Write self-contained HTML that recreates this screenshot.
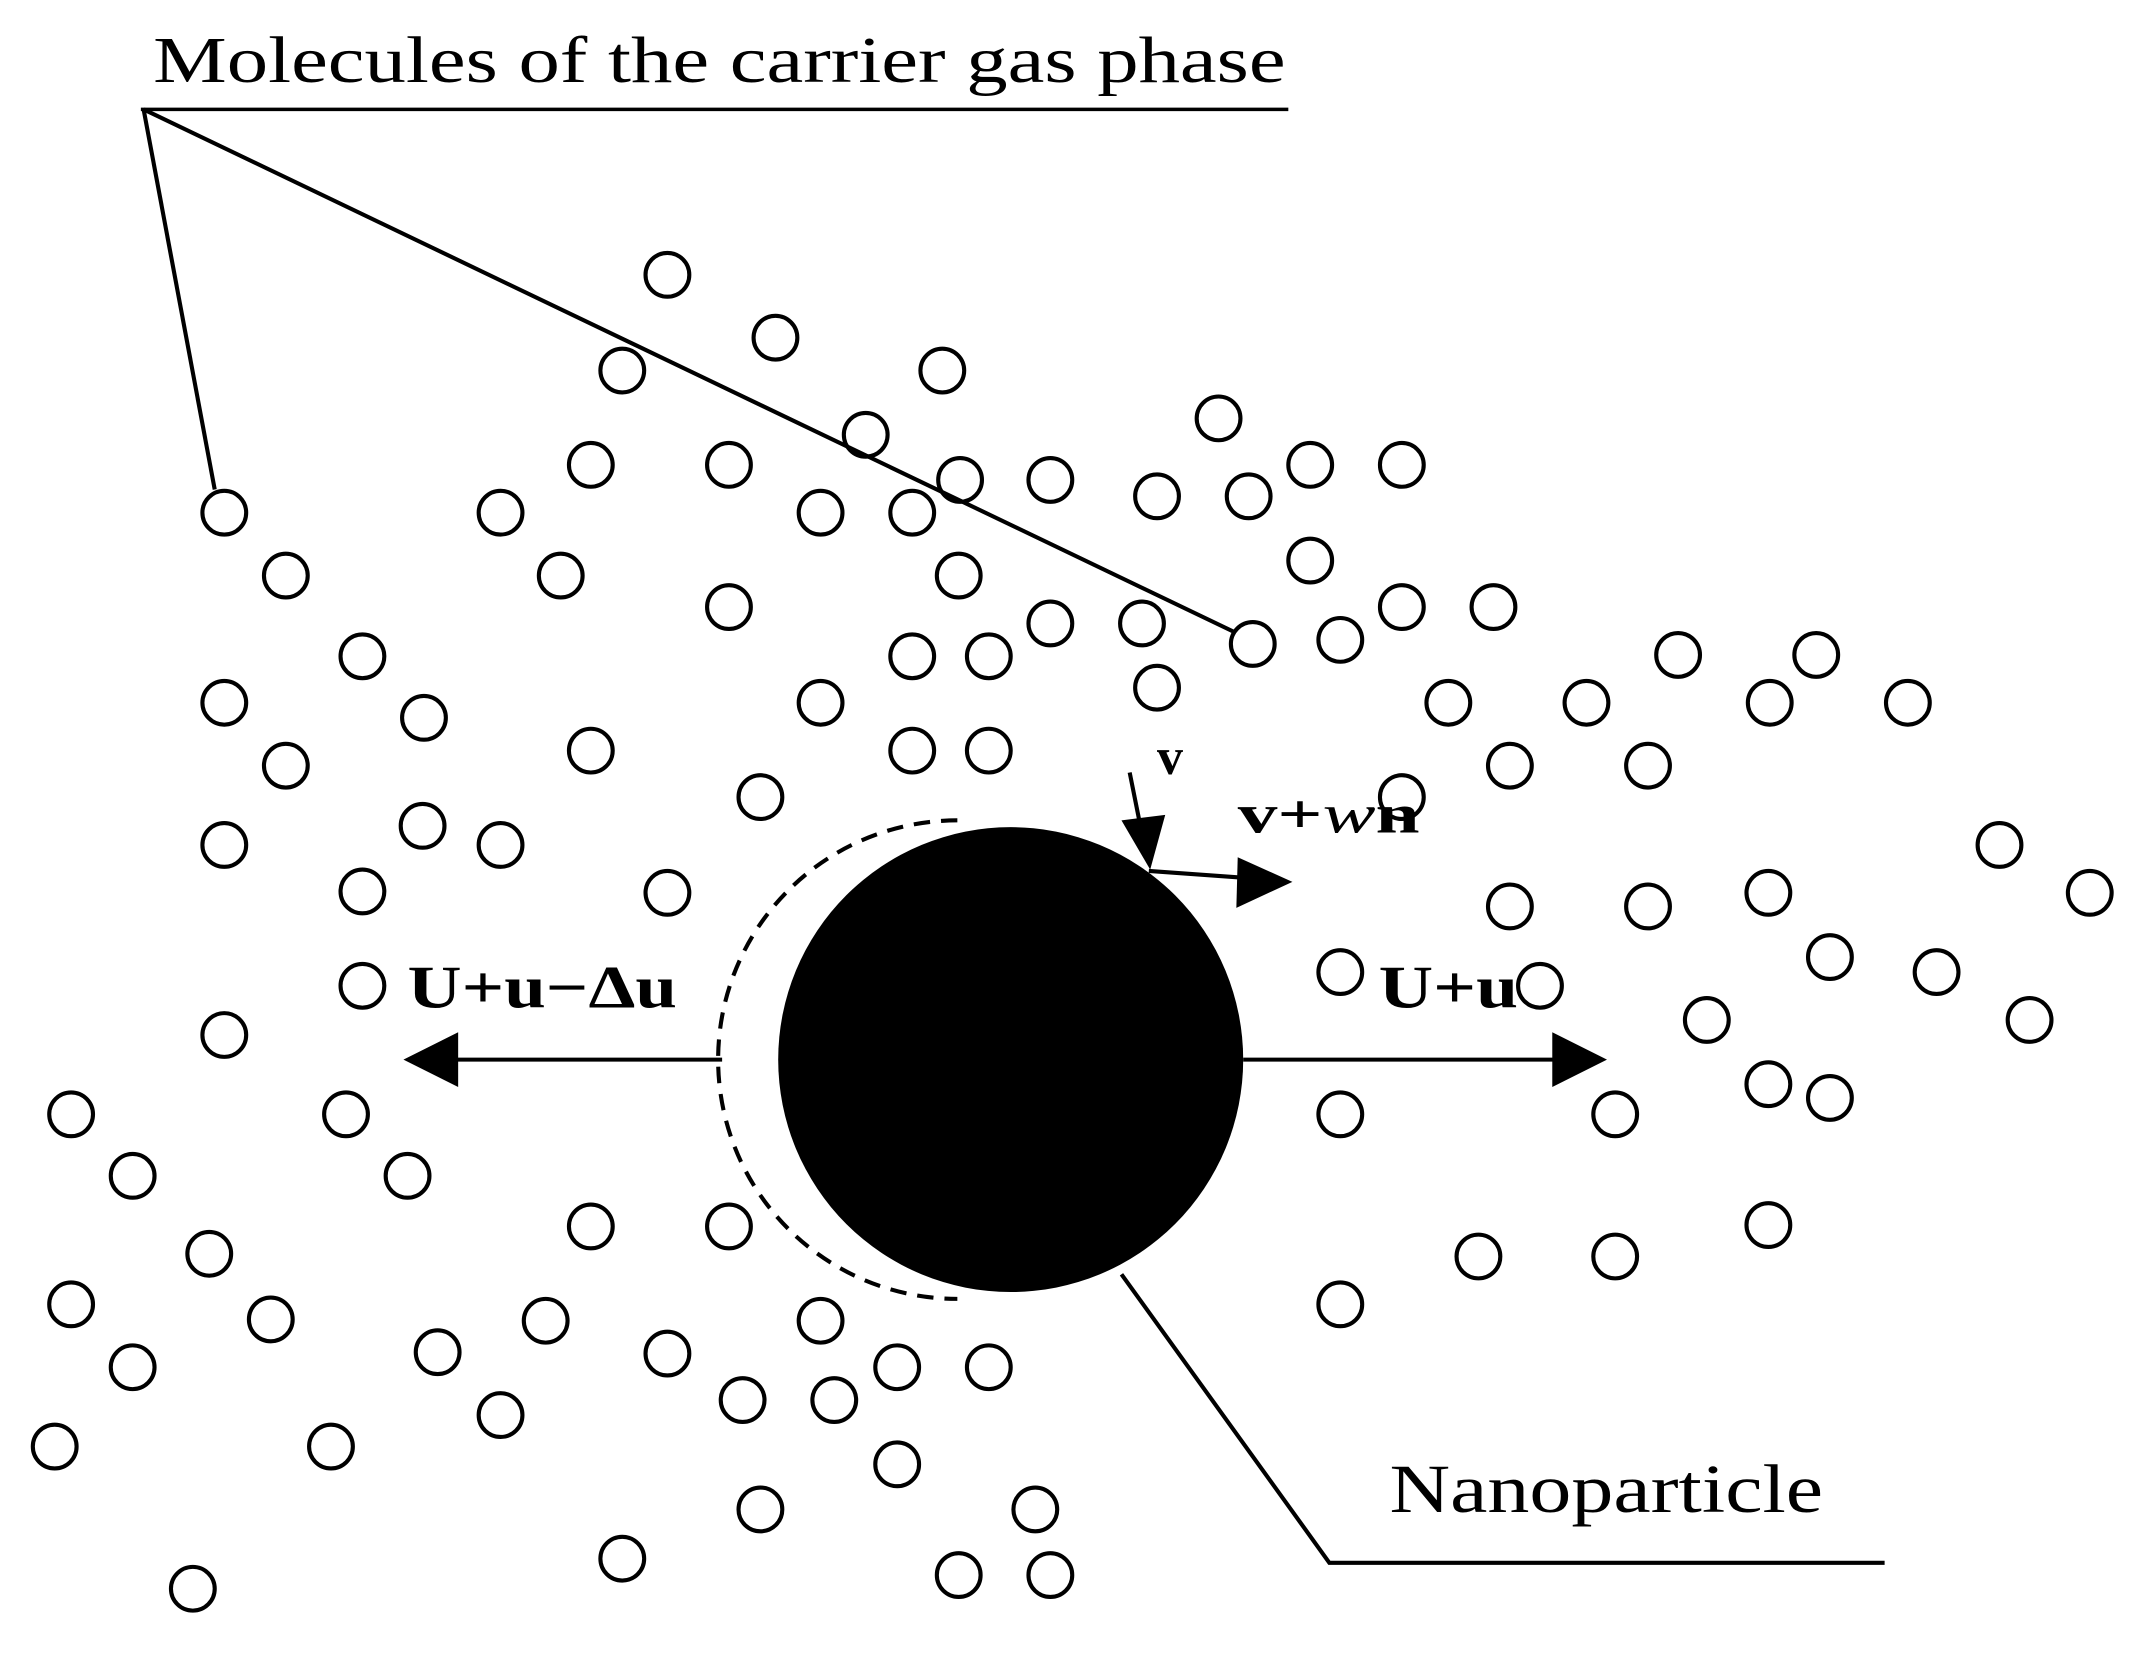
<!DOCTYPE html>
<html><head><style>html,body{margin:0;padding:0;background:#fff}svg{display:block}</style></head><body>
<svg width="2139" height="1653" viewBox="0 0 1564 1209" preserveAspectRatio="none" xmlns="http://www.w3.org/2000/svg">
<rect width="1564" height="1209" fill="#fff"/>
<g fill="none" stroke="#000" stroke-width="3">
<line x1="103" y1="80" x2="942" y2="80" stroke-width="2.5"/>
<line x1="105" y1="80" x2="157" y2="358"/>
<line x1="105" y1="80" x2="902" y2="462"/>
<polyline points="820,932 972,1143 1378,1143"/>
<path d="M700,600 A175,175 0 0 0 700,950" stroke-dasharray="12,8"/>
<line x1="528" y1="775" x2="330" y2="775"/>
<line x1="909" y1="775" x2="1140" y2="775"/>
<line x1="826" y1="565" x2="834" y2="605"/>
<line x1="840" y1="637" x2="910" y2="642"/>
</g>
<circle cx="739" cy="775" r="170" fill="#000"/>
<g fill="#000">
<polygon points="295,775 335,755 335,795"/>
<polygon points="1175,775 1135,755 1135,795"/>
<polygon points="841,636 820,600 852,596"/>
<polygon points="945,645 905,627 904,664"/>
</g>
<g fill="none" stroke="#000" stroke-width="3">
<circle cx="488" cy="201" r="16"/><circle cx="567" cy="247" r="16"/><circle cx="455" cy="271" r="16"/><circle cx="689" cy="271" r="16"/><circle cx="891" cy="306" r="16"/><circle cx="633" cy="318" r="16"/><circle cx="432" cy="340" r="16"/><circle cx="533" cy="340" r="16"/><circle cx="702" cy="351" r="16"/><circle cx="768" cy="351" r="16"/><circle cx="846" cy="363" r="16"/><circle cx="913" cy="363" r="16"/><circle cx="958" cy="340" r="16"/><circle cx="1025" cy="340" r="16"/><circle cx="164" cy="375" r="16"/><circle cx="366" cy="375" r="16"/><circle cx="600" cy="375" r="16"/><circle cx="667" cy="375" r="16"/><circle cx="209" cy="421" r="16"/><circle cx="410" cy="421" r="16"/><circle cx="701" cy="421" r="16"/><circle cx="958" cy="410" r="16"/><circle cx="533" cy="444" r="16"/><circle cx="768" cy="456" r="16"/><circle cx="835" cy="456" r="16"/><circle cx="1025" cy="444" r="16"/><circle cx="1092" cy="444" r="16"/><circle cx="916" cy="471" r="16"/><circle cx="980" cy="468" r="16"/><circle cx="265" cy="480" r="16"/><circle cx="667" cy="480" r="16"/><circle cx="723" cy="480" r="16"/><circle cx="1227" cy="479" r="16"/><circle cx="1328" cy="479" r="16"/><circle cx="164" cy="514" r="16"/><circle cx="310" cy="525" r="16"/><circle cx="600" cy="514" r="16"/><circle cx="846" cy="503" r="16"/><circle cx="1059" cy="514" r="16"/><circle cx="1160" cy="514" r="16"/><circle cx="1294" cy="514" r="16"/><circle cx="1395" cy="514" r="16"/><circle cx="209" cy="560" r="16"/><circle cx="432" cy="549" r="16"/><circle cx="667" cy="549" r="16"/><circle cx="723" cy="549" r="16"/><circle cx="1104" cy="560" r="16"/><circle cx="1205" cy="560" r="16"/><circle cx="556" cy="583" r="16"/><circle cx="1025" cy="583" r="16"/><circle cx="164" cy="618" r="16"/><circle cx="309" cy="604" r="16"/><circle cx="366" cy="618" r="16"/><circle cx="265" cy="652" r="16"/><circle cx="488" cy="653" r="16"/><circle cx="1462" cy="618" r="16"/><circle cx="1528" cy="653" r="16"/><circle cx="1104" cy="663" r="16"/><circle cx="1205" cy="663" r="16"/><circle cx="1293" cy="653" r="16"/><circle cx="1338" cy="700" r="16"/><circle cx="1416" cy="711" r="16"/><circle cx="1484" cy="746" r="16"/><circle cx="265" cy="721" r="16"/><circle cx="980" cy="711" r="16"/><circle cx="1126" cy="721" r="16"/><circle cx="1248" cy="746" r="16"/><circle cx="164" cy="757" r="16"/><circle cx="52" cy="815" r="16"/><circle cx="253" cy="815" r="16"/><circle cx="980" cy="815" r="16"/><circle cx="1181" cy="815" r="16"/><circle cx="1293" cy="793" r="16"/><circle cx="1338" cy="803" r="16"/><circle cx="97" cy="860" r="16"/><circle cx="298" cy="860" r="16"/><circle cx="153" cy="917" r="16"/><circle cx="432" cy="897" r="16"/><circle cx="533" cy="897" r="16"/><circle cx="1081" cy="919" r="16"/><circle cx="1181" cy="919" r="16"/><circle cx="1293" cy="896" r="16"/><circle cx="52" cy="954" r="16"/><circle cx="198" cy="965" r="16"/><circle cx="399" cy="966" r="16"/><circle cx="600" cy="966" r="16"/><circle cx="980" cy="954" r="16"/><circle cx="97" cy="1000" r="16"/><circle cx="320" cy="989" r="16"/><circle cx="488" cy="990" r="16"/><circle cx="656" cy="1000" r="16"/><circle cx="723" cy="1000" r="16"/><circle cx="543" cy="1024" r="16"/><circle cx="610" cy="1024" r="16"/><circle cx="366" cy="1035" r="16"/><circle cx="40" cy="1058" r="16"/><circle cx="242" cy="1058" r="16"/><circle cx="656" cy="1071" r="16"/><circle cx="556" cy="1104" r="16"/><circle cx="757" cy="1104" r="16"/><circle cx="455" cy="1140" r="16"/><circle cx="701" cy="1152" r="16"/><circle cx="768" cy="1152" r="16"/><circle cx="141" cy="1162" r="16"/>
</g>
<g font-family="Liberation Serif, serif" fill="#000">
<text x="112" y="60" font-size="48" textLength="828" lengthAdjust="spacingAndGlyphs">Molecules of the carrier gas phase</text>
<text x="1016" y="1106" font-size="50" textLength="317" lengthAdjust="spacingAndGlyphs">Nanoparticle</text>
<g font-weight="bold">
<text x="298" y="737" font-size="44" textLength="197" lengthAdjust="spacingAndGlyphs">U+u−Δu</text>
<text x="1008" y="737" font-size="44" textLength="102" lengthAdjust="spacingAndGlyphs">U+u</text>
<text x="846" y="566" font-size="38">v</text>
<text x="905" y="609" font-size="40" textLength="133" lengthAdjust="spacingAndGlyphs">v+<tspan font-style="italic" font-weight="normal">w</tspan>n</text>
</g>
</g>
</svg>
</body></html>
